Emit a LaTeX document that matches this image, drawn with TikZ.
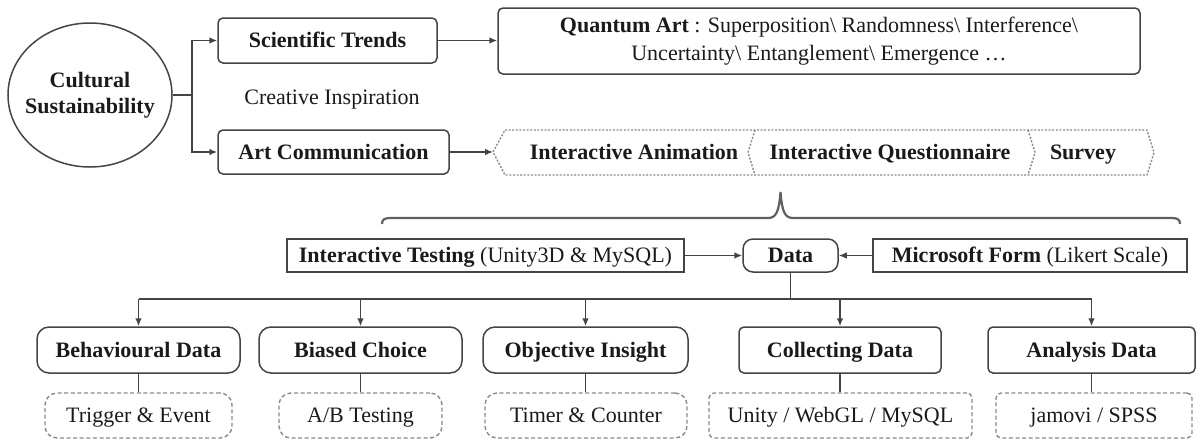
\documentclass[tikz,border=0pt]{standalone}
\usepackage{fontspec}
\setmainfont{Liberation Serif}
\usetikzlibrary{arrows.meta,shapes.geometric}
\definecolor{linec}{HTML}{444444}
\definecolor{textc}{HTML}{1A1A1A}
\definecolor{dashc}{HTML}{8A8A8A}
\tikzset{
  every node/.style={font=\fontsize{11}{14}\selectfont, text=textc},
  oneline/.style={text height=8.2pt, text depth=1.2pt},
  conn/.style={draw=linec, line width=0.8pt},
  arr/.style={conn, -{Latex[length=4pt,width=3.4pt]}},
  solidbox/.style={draw=linec, line width=0.75pt, inner sep=2pt, align=center},
  pillbox/.style={solidbox, oneline, rounded corners=6pt},
  softbox/.style={solidbox, oneline, rounded corners=2.5pt},
  sharpbox/.style={solidbox, oneline},
  dashbox/.style={draw=dashc, line width=0.7pt, dash pattern=on 2pt off 1.3pt, inner sep=2pt, minimum height=22.5pt, oneline},
  dashpill/.style={dashbox, rounded corners=6pt},
  dashsoft/.style={dashbox, rounded corners=2.5pt},
  bandline/.style={draw=dashc, line width=0.7pt, dash pattern=on 1pt off 0.8pt},
  bracel/.style={draw=linec!85, line width=1.1pt},
}
\begin{document}
\begin{tikzpicture}[x=0.5pt,y=-0.5pt]
\useasboundingbox (0,0) rectangle (1198,440);

% top section
\node[ellipse, draw=linec, line width=0.75pt, minimum width=82pt, minimum height=72pt, inner sep=0pt] (cs) at (90,95) {};
\node[align=center, font=\fontsize{11}{13}\selectfont\bfseries] (cst) at (cs.center) {Cultural\\Sustainability};
\node[softbox, minimum width=109.5pt, minimum height=22.5pt] (st) at (327.5,40.5) {\textbf{Scientific Trends}};
\node[softbox, minimum width=115.5pt, minimum height=22pt] (ac) at (333.5,152) {\textbf{Art Communication}};
\node[oneline] (ci) at (332,97) {Creative Inspiration};
\node[solidbox, rounded corners=2.5pt, minimum width=321pt, minimum height=33pt] (qa) at (819,41) {\textbf{Quantum Art} : Superposition\textbackslash{} Randomness\textbackslash{} Interference\textbackslash\\Uncertainty\textbackslash{} Entanglement\textbackslash{} Emergence …};

\coordinate (fork) at (192,95);
\draw[conn] (cs.east) -- (fork);
\draw[arr] (fork) |- (st.west);
\draw[arr] (fork) |- (ac.west);
\draw[arr] (st.east) -- (st.east -| qa.west);

% band
\coordinate (bandtip) at (493,152);
\draw[bandline] (505,130) -- (1147,130) -- (1154,152.5) -- (1147,175) -- (505,175) -- (bandtip) -- cycle;
\draw[bandline] (755,130) -- (748,152.5) -- (755,175);
\draw[bandline] (1028,130) -- (1035,152.5) -- (1028,175);
\node[oneline] (ia) at (634,152) {\textbf{Interactive Animation}};
\node[oneline] (iq) at (890,152) {\textbf{Interactive Questionnaire}};
\node[oneline] (sv) at (1083,152) {\textbf{Survey}};
\draw[arr] (ac.east) -- (bandtip);

% brace
\draw[bracel] (382,224) .. controls (382,219) and (385,218) .. (391,218) -- (768,218) .. controls (776,218) and (779,212) .. (780.5,192) .. controls (782,212) and (785,218) .. (793,218) -- (1171,218) .. controls (1177,218) and (1180,219) .. (1180,224);

% data row
\node[sharpbox, minimum width=198.5pt, minimum height=16.5pt] (it) at (485.5,255.5) {\textbf{Interactive Testing} (Unity3D \& MySQL)};
\node[solidbox, oneline, rounded corners=5pt, minimum width=47.5pt, minimum height=16.5pt] (data) at (790.5,255.5) {\textbf{Data}};
\node[sharpbox, minimum width=157pt, minimum height=16.5pt] (mf) at (1030,255.5) {\textbf{Microsoft Form} (Likert Scale)};
\draw[arr] (it.east) -- (data.west);
\draw[arr] (mf.west) -- (data.east);

% bottom boxes
\node[pillbox, minimum width=101.5pt, minimum height=23pt] (bd) at (138.5,350) {\textbf{Behavioural Data}};
\node[pillbox, minimum width=101.5pt, minimum height=23pt] (bc) at (360.5,350) {\textbf{Biased Choice}};
\node[pillbox, minimum width=102.5pt, minimum height=23pt] (oi) at (585.5,350) {\textbf{Objective Insight}};
\node[softbox, minimum width=101pt, minimum height=23pt] (cd) at (840,350) {\textbf{Collecting Data}};
\node[softbox, minimum width=103.5pt, minimum height=23pt] (ad) at (1091.5,350) {\textbf{Analysis Data}};

\node[dashpill, minimum width=93.5pt] (te) at (138.5,415.5) {Trigger \& Event};
\node[dashpill, minimum width=81.5pt] (ab) at (360.5,415.5) {A/B Testing};
\node[dashpill, minimum width=101pt] (tc) at (586,415.5) {Timer \& Counter};
\node[dashsoft, minimum width=131.5pt] (uw) at (840.5,415.5) {Unity / WebGL / MySQL};
\node[dashsoft, minimum width=98pt] (js) at (1094,415.5) {jamovi / SPSS};

% bus
\coordinate (bus) at (0,299);
\draw[conn] (data.south) -- (data.south |- bus);
\draw[conn] (bd.north |- bus) -- (ad.north |- bus);
\foreach \n in {bd,bc,oi,cd,ad}{
  \draw[arr] (\n.north |- bus) -- (\n.north);
}
\draw[conn] (bd.south) -- (bd.south |- te.north);
\draw[conn] (bc.south) -- (bc.south |- ab.north);
\draw[conn] (oi.south) -- (oi.south |- tc.north);
\draw[conn] (cd.south) -- (cd.south |- uw.north);
\draw[conn] (ad.south) -- (ad.south |- js.north);
\end{tikzpicture}
\end{document}
